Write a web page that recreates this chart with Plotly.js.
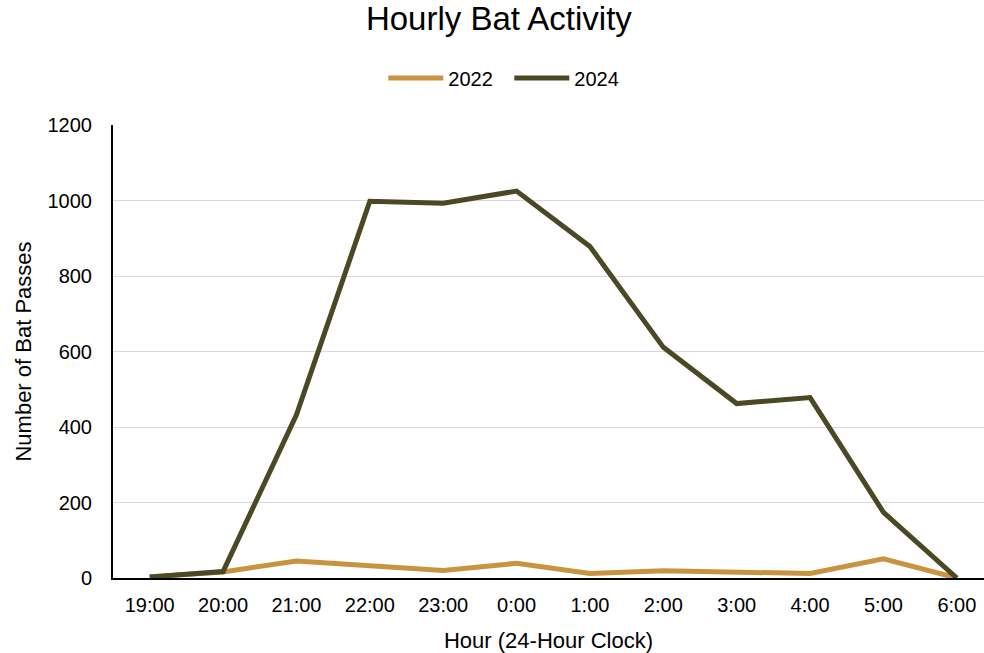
<!DOCTYPE html>
<html>
<head>
<meta charset="utf-8">
<script src="https://cdn.plot.ly/plotly-3.0.1.min.js"></script>
<style>
  html, body { margin: 0; padding: 0; background: #ffffff; }
  #chart { width: 984px; height: 653px; }
</style>
</head>
<body>
<div id="chart"></div>
<script>
// Hour of night (24-hour clock)
const hours = ["19:00", "20:00", "21:00", "22:00", "23:00", "0:00",
               "1:00", "2:00", "3:00", "4:00", "5:00", "6:00"];

// Bat passes recorded per hour
const passes2022 = [3, 16, 45, 33, 20, 39, 12, 19, 15, 12, 51, 0];
const passes2024 = [3, 17, 432, 998, 993, 1025, 878, 611, 462, 478, 174, 0];

const yTicks = [0, 200, 400, 600, 800, 1000, 1200];

const font = "Liberation Sans, Arial, sans-serif";

const traces = [
  {
    x: hours, y: passes2022, name: "2022", type: "scatter", mode: "lines",
    line: { color: "#C8943F", width: 5 }
  },
  {
    x: hours, y: passes2024, name: "2024", type: "scatter", mode: "lines",
    line: { color: "#4B4824", width: 5 }
  }
];

const layout = {
  width: 984, height: 653,
  paper_bgcolor: "#ffffff", plot_bgcolor: "#ffffff",
  margin: { l: 113, r: 0, t: 125, b: 75 },
  font: { family: font, color: "#000000", size: 20 },
  title: {
    text: "Hourly Bat Activity",
    font: { family: font, size: 33, color: "#000000" },
    x: 0.507, xref: "container", xanchor: "center",
    y: 0.972, yref: "container", yanchor: "middle"
  },
  showlegend: true,
  legend: {
    orientation: "h", x: 0.455, xanchor: "center", y: 1.104, yanchor: "middle",
    font: { family: font, size: 20, color: "#000000" },
    itemwidth: 55, entrywidth: 56, traceorder: "normal"
  },
  xaxis: {
    type: "category",
    range: [-0.5, 11.37],
    showline: true, linecolor: "#000000", linewidth: 2,
    showgrid: false, zeroline: false,
    ticks: "", ticklabelstandoff: 8,
    tickfont: { family: font, size: 20, color: "#000000" },
    title: { text: "Hour (24-Hour Clock)", font: { family: font, size: 22, color: "#000000" }, standoff: 18 }
  },
  yaxis: {
    range: [0, 1200],
    tickvals: yTicks, ticktext: yTicks.map(String),
    showline: true, linecolor: "#000000", linewidth: 2,
    showgrid: true, gridcolor: "#d9d9d9", gridwidth: 1,
    zeroline: false, ticks: "", ticklabelstandoff: 15,
    tickfont: { family: font, size: 20, color: "#000000" },
    title: { text: "Number of Bat Passes", font: { family: font, size: 22, color: "#000000" }, standoff: 10 }
  }
};

Plotly.newPlot("chart", traces, layout, { displayModeBar: false, staticPlot: true });
</script>
</body>
</html>
